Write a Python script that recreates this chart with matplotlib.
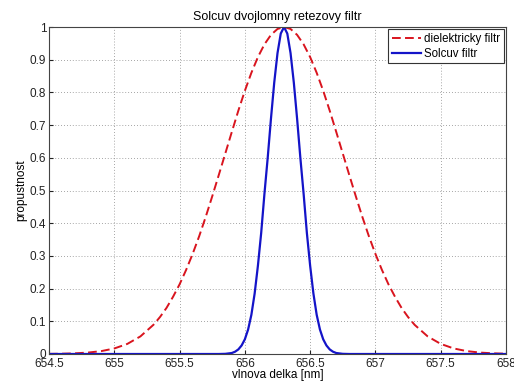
import matplotlib
matplotlib.use("Agg")
import matplotlib.pyplot as plt

plt.rcParams['font.family'] = ['Liberation Sans', 'DejaVu Sans']

title = "Solcuv dvojlomny retezovy filtr"
xlabel = "vlnova delka [nm]"
ylabel = "propustnost"
legend_labels = ["dielektricky filtr", "Solcuv filtr"]

# dielectric filter (red dashed)
red_x = [654.5, 654.6, 654.7, 654.8, 654.9, 655.0, 655.1, 655.2, 655.3, 655.35,
         655.4, 655.45, 655.5, 655.55, 655.6, 655.65, 655.7, 655.75, 655.8, 655.85,
         655.9, 655.95, 656.0, 656.05, 656.1, 656.15, 656.2, 656.25, 656.3, 656.35,
         656.4, 656.45, 656.5, 656.55, 656.6, 656.65, 656.7, 656.75, 656.8, 656.85,
         656.9, 656.95, 657.0, 657.05, 657.1, 657.15, 657.2, 657.25, 657.3, 657.4,
         657.5, 657.6, 657.7, 657.8, 657.9, 658.0]
red_y = [0.0004, 0.0009, 0.0021, 0.0044, 0.0088, 0.0169, 0.0309, 0.0538, 0.0893, 0.113,
         0.141, 0.175, 0.213, 0.257, 0.306, 0.360, 0.419, 0.482, 0.547, 0.613,
         0.679, 0.744, 0.805, 0.860, 0.908, 0.947, 0.976, 0.994, 1.0, 0.994,
         0.976, 0.947, 0.908, 0.860, 0.805, 0.744, 0.679, 0.613, 0.547, 0.482,
         0.419, 0.360, 0.306, 0.257, 0.213, 0.175, 0.141, 0.113, 0.0893, 0.0538,
         0.0309, 0.0169, 0.0088, 0.0044, 0.0021, 0.0009]

# Solc filter (blue solid)
blue_x = [654.5, 655.8, 655.85, 655.9, 655.925, 655.95, 655.975, 656.0, 656.025, 656.05,
          656.075, 656.1, 656.125, 656.15, 656.175, 656.2, 656.225, 656.25, 656.275, 656.3,
          656.325, 656.35, 656.375, 656.4, 656.425, 656.45, 656.475, 656.5, 656.525, 656.55,
          656.575, 656.6, 656.625, 656.65, 656.675, 656.7, 656.75, 656.8, 658.0]
blue_y = [0.0, 0.0, 0.0005, 0.003, 0.007, 0.014, 0.026, 0.045, 0.075, 0.12,
          0.185, 0.27, 0.37, 0.49, 0.60, 0.72, 0.83, 0.92, 0.98, 1.0,
          0.98, 0.92, 0.83, 0.72, 0.60, 0.49, 0.37, 0.27, 0.185, 0.12,
          0.075, 0.045, 0.026, 0.014, 0.007, 0.003, 0.0005, 0.0, 0.0]

xticks = [654.5, 655, 655.5, 656, 656.5, 657, 657.5, 658]
xtick_labels = ["654.5", "655", "655.5", "656", "656.5", "657", "657.5", "658"]
yticks = [0, 0.1, 0.2, 0.3, 0.4, 0.5, 0.6, 0.7, 0.8, 0.9, 1]
ytick_labels = ["0", "0.1", "0.2", "0.3", "0.4", "0.5", "0.6", "0.7", "0.8", "0.9", "1"]

fig = plt.figure(figsize=(5.14, 3.81), dpi=100)
ax = fig.add_axes([49/514, 1-354/381, (506-49)/514, (354-27)/381])

ax.plot(red_x, red_y, color='#d9141e', linestyle=(0, (4.5, 2.2)), linewidth=1.4,
        label=legend_labels[0])
ax.plot(blue_x, blue_y, color='#1414c8', linestyle='-', linewidth=1.6,
        label=legend_labels[1])

ax.set_xlim(654.5, 658)
ax.set_ylim(0, 1)
ax.set_xticks(xticks)
ax.set_xticklabels(xtick_labels)
ax.set_yticks(yticks)
ax.set_yticklabels(ytick_labels)
ax.tick_params(direction='in', length=3, labelsize=8.5, colors='#222222')
ax.tick_params(axis='x', pad=3)
ax.tick_params(axis='y', pad=2)
ax.grid(True, linestyle=(0, (1, 2.5)), color='#888888', linewidth=0.6)
for s in ax.spines.values():
    s.set_color('#444444')
    s.set_linewidth(0.8)

ax.set_title(title, fontsize=9, pad=5)
ax.set_xlabel(xlabel, fontsize=8.5, labelpad=-1)
ax.set_ylabel(ylabel, fontsize=8.5, labelpad=2)

leg = ax.legend(loc='upper right', fontsize=8.3, fancybox=False, framealpha=1,
                edgecolor='#333333', handlelength=2.5, handletextpad=0.3,
                borderpad=0.3, labelspacing=0.25, borderaxespad=0.2)
leg.get_frame().set_linewidth(0.8)

fig.savefig("out.png", dpi=100)
